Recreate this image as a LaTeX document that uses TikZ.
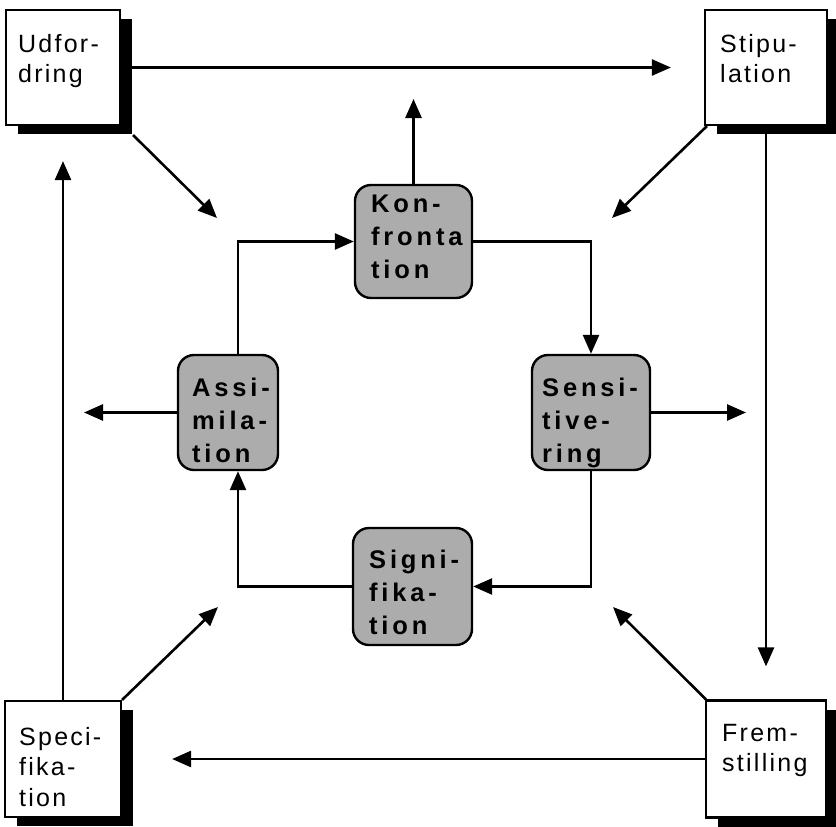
\documentclass[tikz,border=0pt]{standalone}
\usepackage{fontspec}
\setmainfont{Liberation Sans}
\newfontfamily\cornerfont[LetterSpace=9]{Liberation Sans}
\newfontfamily\stagefont[LetterSpace=15]{Liberation Sans Bold}
\usetikzlibrary{arrows.meta,shadows}

\definecolor{stagegray}{RGB}{172,172,172}

\tikzset{
  cornerbox/.style={draw=black, line width=2.2pt, fill=white, inner sep=0pt,
    drop shadow={shadow xshift=12pt, shadow yshift=-9pt, fill=black, opacity=1}},
  cornertext/.style={anchor=north west, inner sep=0pt, align=left,
    font=\cornerfont\fontsize{25}{30.5}\selectfont},
  stagebox/.style={draw=black, line width=2.4pt, fill=stagegray,
    rounded corners=16pt, inner sep=0pt},
  stagetext/.style={anchor=north west, inner sep=0pt, align=left,
    font=\stagefont\fontsize{25.5}{33}\selectfont},
  link/.style={line width=2.6pt, -{Triangle[length=19pt,width=16pt]}}
}

\begin{document}
\begin{tikzpicture}[x=1pt, y=-1pt]
\useasboundingbox (0,0) rectangle (836,827);

% outer corner boxes
\node[cornerbox, minimum width=114pt, minimum height=115pt] (udf)  at (63,67.5)  {};
\node[cornerbox, minimum width=122pt, minimum height=115pt] (stip) at (766,67.5) {};
\node[cornerbox, minimum width=116pt, minimum height=116pt] (spec) at (63,759)   {};
\node[cornerbox, minimum width=120pt, minimum height=117pt] (frem) at (766,759)  {};

\node[cornertext] (udfT)  at (18,34)   {Udfor-\\dring};
\node[cornertext] (stipT) at (720,34)  {Stipu-\\lation};
\node[cornertext] (specT) at (19,727)  {Speci-\\fika-\\tion};
\node[cornertext] (fremT) at (722,724) {Frem-\\stilling};

% inner stage boxes
\node[stagebox, minimum width=117pt, minimum height=113pt] (konf)  at (413.5,241.5) {};
\node[stagebox, minimum width=100pt, minimum height=115pt] (assim) at (228,412.5)   {};
\node[stagebox, minimum width=118pt, minimum height=115pt] (sens)  at (591,412.5)   {};
\node[stagebox, minimum width=119pt, minimum height=117pt] (sign)  at (412.5,586.5) {};

\node[stagetext] (konfT)  at (371,195) {Kon-\\fronta\\tion};
\node[stagetext] (assimT) at (192,378) {Assi-\\mila-\\tion};
\node[stagetext] (sensT)  at (542,378) {Sensi-\\tive-\\ring};
\node[stagetext] (signT)  at (369,550) {Signi-\\fika-\\tion};

% free ends of the outward arrows
\coordinate (konfOut)  at (413.5,99);
\coordinate (assimOut) at (84,412.5);
\coordinate (sensOut)  at (746,412.5);
\coordinate (udfIn)    at (217,218);
\coordinate (stipIn)   at (612,218);
\coordinate (specIn)   at (218,607);
\coordinate (fremIn)   at (613,607);

% outer ring
\draw[link, shorten >=33pt] (udf.east) -- (stip.west);
\draw[link, shorten >=33pt] (stip.south) -- (frem.north);
\draw[link, shorten >=50pt] (frem.west) -- (spec.east);
\draw[link, shorten >=35pt] (spec.north) -- (udf.south);

% corner diagonals towards the centre
\draw[link] ([shift={(12,9)}]udf.south east) -- (udfIn);
\draw[link] ([shift={(3,0)}]stip.south west) -- (stipIn);
\draw[link] (spec.north east) -- (specIn);
\draw[link] ([shift={(1,0)}]frem.north west) -- (fremIn);

% inner cycle
\draw[link] ([xshift=10pt]assim.north) |- (konf.west);
\draw[link] (konf.east) -| (sens.north);
\draw[link] (sens.south) |- (sign.east);
\draw[link] (sign.west) -| ([xshift=10pt]assim.south);

% outward arrows from the stages
\draw[link] (konf.north) -- (konfOut);
\draw[link] (assim.west) -- (assimOut);
\draw[link] (sens.east) -- (sensOut);
\end{tikzpicture}
\end{document}
